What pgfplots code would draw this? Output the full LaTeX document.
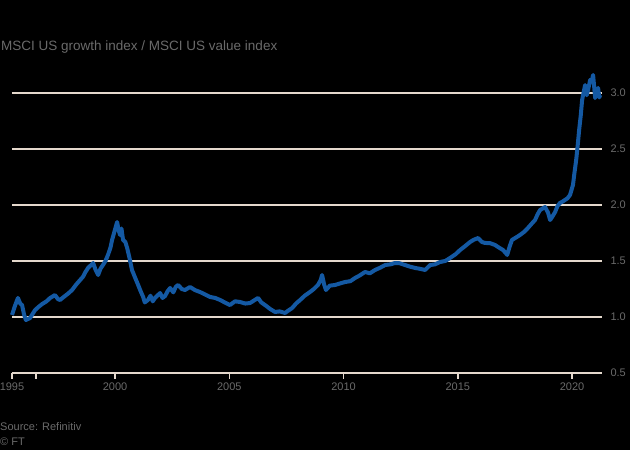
\documentclass[border=0pt]{standalone}
\usepackage{pgfplots}
\pgfplotsset{compat=1.18}
\usepackage{fontspec}
\setmainfont{Liberation Sans}
\definecolor{ftblue}{HTML}{1459A3}
\definecolor{gridc}{HTML}{E4D8CC}
\definecolor{txt}{HTML}{6A6A6A}
\begin{document}
\begin{tikzpicture}
\fill[black] (0pt,0pt) rectangle (630pt,450pt);
\begin{axis}[
  at={(12pt,77pt)}, anchor=south west,
  scale only axis, width=590pt, height=302.4pt,
  xmin=1995.49, xmax=2021.31, ymin=0.5, ymax=3.2,
  clip=false,
  axis line style={draw=none},
  ymajorgrids, grid style={gridc, line width=2pt},
  ytick={0.5,1,1.5,2,2.5,3},
  ytick style={draw=none},
  yticklabel pos=right,
  yticklabel style={xshift=-1pt},
  xtick={1995.49,1996.54,2000,2005,2010,2015,2020},
  xticklabels={1995,,2000,2005,2010,2015,2020},
  xtick pos=bottom, tick align=outside,
  major tick length=6pt,
  xtick style={gridc, line width=1.4pt},
  ticklabel style={text=txt, font=\fontsize{11}{13}\selectfont},
  /pgf/number format/.cd, fixed, fixed zerofill, precision=1, assume math mode=true,
]
\addplot[ftblue, line width=4pt, line join=round] coordinates {
(1995.49,1.018) (1995.62,1.10) (1995.75,1.170) (1995.85,1.12) (1995.93,1.107) (1996.02,1.02) (1996.10,0.973)
(1996.28,0.991) (1996.40,1.03) (1996.50,1.062) (1996.65,1.09) (1996.81,1.116) (1997.00,1.14) (1997.16,1.170)
(1997.37,1.196) (1997.50,1.16) (1997.59,1.152) (1997.81,1.188) (1997.95,1.21) (1998.12,1.241) (1998.30,1.29)
(1998.47,1.330) (1998.60,1.36) (1998.70,1.40) (1998.82,1.438) (1999.04,1.482) (1999.15,1.42) (1999.26,1.375)
(1999.36,1.43) (1999.47,1.464) (1999.58,1.50) (1999.69,1.554) (1999.80,1.62) (1999.87,1.688) (1999.97,1.76)
(2000.09,1.848) (2000.15,1.78) (2000.22,1.732) (2000.28,1.79) (2000.35,1.688) (2000.45,1.67) (2000.53,1.616)
(2000.64,1.52) (2000.74,1.420) (2000.88,1.35) (2001.01,1.286) (2001.12,1.23) (2001.23,1.179) (2001.30,1.13)
(2001.44,1.152) (2001.55,1.19) (2001.65,1.14) (2001.75,1.170) (2001.97,1.214) (2002.08,1.17) (2002.19,1.188)
(2002.30,1.23) (2002.41,1.259) (2002.55,1.22) (2002.66,1.27) (2002.76,1.286) (2002.92,1.25) (2003.06,1.241)
(2003.28,1.268) (2003.50,1.24) (2003.72,1.223) (2003.95,1.20) (2004.16,1.179) (2004.38,1.17) (2004.60,1.152)
(2004.80,1.13) (2005.03,1.107) (2005.25,1.14) (2005.47,1.134) (2005.70,1.12) (2005.91,1.125) (2006.10,1.15)
(2006.26,1.170) (2006.40,1.13) (2006.56,1.107) (2006.80,1.07) (2007.00,1.045) (2007.20,1.05) (2007.44,1.036)
(2007.60,1.06) (2007.75,1.080) (2007.92,1.12) (2008.10,1.152) (2008.30,1.19) (2008.53,1.223) (2008.70,1.25)
(2008.88,1.286) (2009.00,1.33) (2009.06,1.375) (2009.15,1.29) (2009.23,1.241) (2009.40,1.28) (2009.63,1.286)
(2009.85,1.30) (2010.07,1.3125) (2010.30,1.32) (2010.50,1.348) (2010.70,1.37) (2010.94,1.402) (2011.15,1.39)
(2011.38,1.420) (2011.60,1.44) (2011.82,1.464) (2012.05,1.47) (2012.25,1.482) (2012.45,1.48) (2012.69,1.464)
(2012.90,1.45) (2013.13,1.438) (2013.35,1.43) (2013.57,1.420) (2013.79,1.464) (2014.00,1.47) (2014.22,1.491)
(2014.45,1.50) (2014.66,1.527) (2014.90,1.56) (2015.10,1.598) (2015.30,1.63) (2015.54,1.670) (2015.70,1.69)
(2015.89,1.705) (2016.05,1.67) (2016.19,1.661) (2016.40,1.66) (2016.63,1.643) (2016.80,1.62) (2016.98,1.598)
(2017.10,1.57) (2017.16,1.554) (2017.27,1.63) (2017.37,1.688) (2017.55,1.71) (2017.72,1.732) (2017.90,1.76)
(2018.07,1.795) (2018.22,1.83) (2018.38,1.866) (2018.50,1.92) (2018.60,1.955) (2018.72,1.97) (2018.82,1.982)
(2018.95,1.93) (2019.04,1.866) (2019.15,1.90) (2019.26,1.9375) (2019.36,1.99) (2019.47,2.018) (2019.58,2.03)
(2019.69,2.045) (2019.80,2.06) (2019.91,2.089) (2020.04,2.179) (2020.10,2.28) (2020.18,2.402) (2020.25,2.54)
(2020.31,2.670) (2020.38,2.80) (2020.44,2.9375) (2020.50,3.00) (2020.57,3.071) (2020.64,2.98) (2020.70,3.027)
(2020.79,3.116) (2020.86,3.10) (2020.92,3.161) (2020.97,3.05) (2021.01,2.955) (2021.08,3.02) (2021.14,3.045)
(2021.19,2.96) (2021.23,2.982)
};
\end{axis}
\node[anchor=west, text=txt, inner sep=0pt, font=\fontsize{13.5}{15}\selectfont] at (1pt,403pt) {MSCI US growth index / MSCI US value index};
\node[anchor=west, text=txt, inner sep=0pt, font=\fontsize{11}{13}\selectfont] at (0pt,23pt) {Source: Refinitiv};
\node[anchor=west, text=txt, inner sep=0pt, font=\fontsize{11}{13}\selectfont] at (0pt,8pt) {© FT};
\pgfresetboundingbox
\path[use as bounding box] (0pt,0pt) rectangle (630pt,450pt);
\end{tikzpicture}
\end{document}
